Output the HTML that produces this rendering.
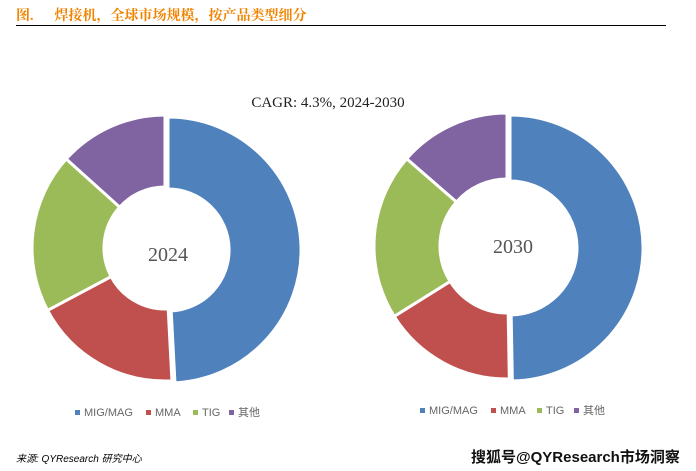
<!DOCTYPE html>
<html><head><meta charset="utf-8"><style>
body{margin:0;width:696px;height:471px;background:#fff;position:relative;overflow:hidden;font-family:"Liberation Sans","Noto Sans CJK SC",sans-serif}
.t{position:absolute;left:16px;top:5px;color:#f08300;font-weight:bold;font-size:14px;font-family:"Liberation Serif","Noto Serif CJK SC",serif}
.line{position:absolute;left:16px;top:25px;width:650px;height:1px;background:#000}
</style></head><body>
<div class="t">图.&nbsp;&nbsp;&nbsp;&nbsp;&nbsp;&nbsp;焊接机，全球市场规模，按产品类型细分</div>
<div class="line"></div>
<svg id="s" width="696" height="471" style="position:absolute;left:0;top:0">
<text x="328" y="107" text-anchor="middle" font-family="Liberation Serif,serif" font-size="15" fill="#222">CAGR:  4.3%, 2024-2030</text>
<text x="168" y="261" text-anchor="middle" font-family="Liberation Serif,serif" font-size="20" fill="#555">2024</text>
<text x="513" y="253" text-anchor="middle" font-family="Liberation Serif,serif" font-size="20" fill="#555">2030</text>
<g font-size="11" fill="#666">
<rect x="75" y="410" width="5" height="5" fill="#4f81bd"/><text x="84" y="416">MIG/MAG</text>
<rect x="146" y="410" width="5" height="5" fill="#c0504d"/><text x="155" y="416">MMA</text>
<rect x="193" y="410" width="5" height="5" fill="#9bbb59"/><text x="202" y="416">TIG</text>
<rect x="229" y="410" width="5" height="5" fill="#8064a2"/><text x="238" y="416">其他</text>
<rect x="420" y="408" width="5" height="5" fill="#4f81bd"/><text x="429" y="414">MIG/MAG</text>
<rect x="491" y="408" width="5" height="5" fill="#c0504d"/><text x="500" y="414">MMA</text>
<rect x="537" y="408" width="5" height="5" fill="#9bbb59"/><text x="546" y="414">TIG</text>
<rect x="574" y="408" width="5" height="5" fill="#8064a2"/><text x="583" y="414">其他</text>
</g>
<text x="16" y="462" font-size="10" font-style="italic" fill="#000">来源:  QYResearch 研究中心</text>
<text x="471" y="462" font-size="15" font-weight="bold" fill="#111">搜狐号@QYResearch市场洞察</text>
</svg>
<script>
var s=document.getElementById('s'),C=['#4f81bd','#c0504d','#9bbb59','#8064a2'];
function d(cx,cy,R,r,b){var a=0;for(var i=0;i<4;i++){var a0=a*Math.PI/180,a1=b[i]*Math.PI/180;a=b[i];
var ox=0,oy=0;if(i==0){ox=3;oy=2;}
function p(rr,t){return [(cx+ox+rr*Math.sin(t)).toFixed(2),(cy+oy-rr*Math.cos(t)).toFixed(2)].join(',')}
var lg=(a1-a0)>Math.PI?1:0;
var e=document.createElementNS('http://www.w3.org/2000/svg','path');
e.setAttribute('d','M'+p(R,a0)+'A'+R+','+R+' 0 '+lg+' 1 '+p(R,a1)+'L'+p(r,a1)+'A'+r+','+r+' 0 '+lg+' 0 '+p(r,a0)+'Z');
e.setAttribute('fill',C[i]);e.setAttribute('stroke','#fff');e.setAttribute('stroke-width','3');
s.insertBefore(e,s.firstChild);}}
d(165,248,133,61,[177,242,312,360]);
d(507,246,133,67,[179,238,311,360]);
</script>
</body></html>
